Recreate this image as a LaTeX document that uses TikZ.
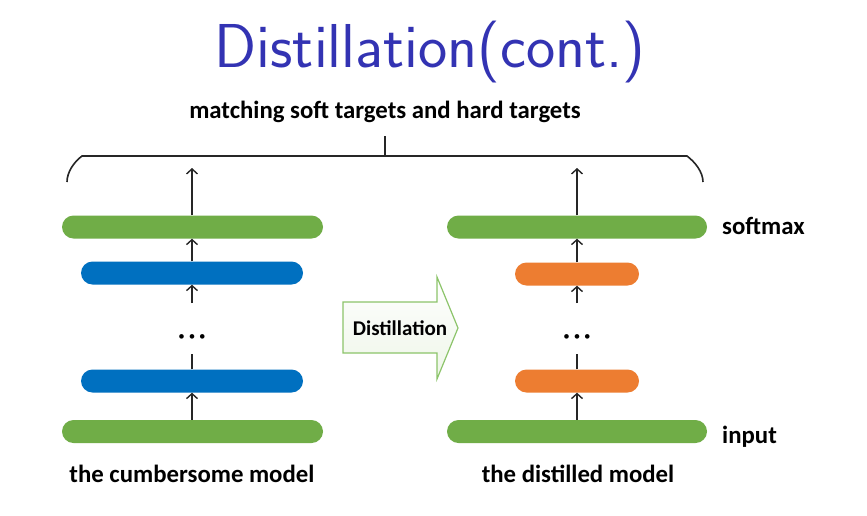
\documentclass[tikz,border=0pt]{standalone}
\usepackage{fontspec}
\setmainfont{Carlito}
\usetikzlibrary{arrows.meta}
\definecolor{barGreen}{HTML}{70AD47}
\definecolor{barBlue}{HTML}{0070C0}
\definecolor{barOrange}{HTML}{ED7D31}
\definecolor{titleBlue}{HTML}{3333B3}
\definecolor{arrowGreen}{HTML}{8CC46A}
\definecolor{arrowFill}{HTML}{EEF6E8}
\begin{document}
\begin{tikzpicture}[x=1pt,y=-1pt,
  bar/.style={rounded corners=11.5pt, minimum height=23pt, inner sep=0pt, draw=none},
  gbar/.style={bar, fill=barGreen, minimum width=261pt},
  bbar/.style={bar, fill=barBlue, minimum width=222pt},
  obar/.style={bar, fill=barOrange, minimum width=124pt},
  conn/.style={line width=1.6pt, draw=black!85, -{Straight Barb[length=5pt,width=11pt,line width=1.4pt]}},
  plain/.style={line width=1.6pt, draw=black!85},
  lbl/.style={font=\bfseries\fontsize{24.8}{28}\selectfont, anchor=base, inner sep=0pt},
  dotsty/.style={font=\fontsize{13}{15}\selectfont, inner sep=0pt},
]
\useasboundingbox (0,0) rectangle (867,515);
\fill[white] (0,0) rectangle (867,515);

% title
\node[font=\sffamily\fontsize{62}{68}\selectfont, text=titleBlue, anchor=base, inner sep=0pt] (title) at (430,67) {Distillation(cont.)};

% top label and brace
\node[lbl] (match) at (385,118) {matching soft targets and hard targets};
\coordinate (stemtop) at (385,136);
\coordinate (stembot) at (385,156);
\draw[plain] (stemtop) -- (stembot);
\draw[plain] (67,182) .. controls (67,172) and (74,162) .. (82,156) -- (687,156) .. controls (695,162) and (703,172) .. (703,182);

% left column
\node[gbar] (g1) at (192.5,227) {};
\node[bbar] (b1) at (192,273) {};
\node[dotsty] (d1) at (192,338) {•\hspace{4pt}•\hspace{4pt}•};
\node[bbar] (b2) at (192,381) {};
\node[gbar] (g2) at (192.5,431.5) {};
\coordinate (top1) at (192,168);
\coordinate (d1top) at (192,303);
\coordinate (d1bot) at (192,354);
\draw[conn] (g1.north -| top1) -- (top1);
\draw[conn] (b1.north) -- (b1.north |- g1.south);
\draw[conn] (d1top) -- (b1.south);
\draw[plain] (b2.north) -- (d1bot);
\draw[conn] (g2.north -| b2.south) -- (b2.south);

% right column
\node[gbar, minimum width=260pt] (g3) at (577,227) {};
\node[obar] (o1) at (577,274) {};
\node[dotsty] (d2) at (577,338) {•\hspace{4pt}•\hspace{4pt}•};
\node[obar] (o2) at (577,381) {};
\node[gbar, minimum width=260pt] (g4) at (577,431.5) {};
\coordinate (top2) at (577,168);
\coordinate (d2top) at (577,303);
\coordinate (d2bot) at (577,354);
\draw[conn] (g3.north) -- (top2);
\draw[conn] (o1.north) -- (g3.south);
\draw[conn] (d2top) -- (o1.south);
\draw[plain] (o2.north) -- (d2bot);
\draw[conn] (g4.north) -- (o2.south);

% distillation arrow
\path[draw=arrowGreen, line width=1.2pt, top color=white, bottom color=arrowFill]
  (343,302) -- (437,302) -- (437,277) -- (458,328) -- (437,379) -- (437,353) -- (343,353) -- cycle;
\node[font=\bfseries\fontsize{21}{24}\selectfont, anchor=base, inner sep=0pt] (dist) at (400,335) {Distillation};

% side and bottom labels
\node[lbl, anchor=base west] (softmax) at (722,234) {softmax};
\node[lbl, anchor=base west] (input) at (722,443) {input};
\node[lbl] (cm) at (192,482) {the cumbersome model};
\node[lbl] (dm) at (578,482) {the distilled model};
\end{tikzpicture}
\end{document}
